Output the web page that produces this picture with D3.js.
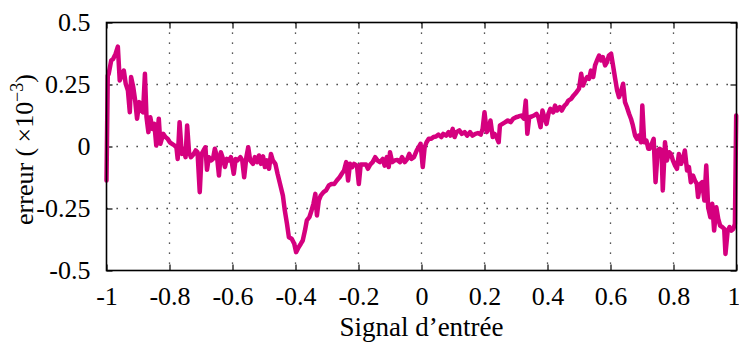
<!DOCTYPE html>
<html><head><meta charset="utf-8">
<script src="https://cdn.jsdelivr.net/npm/d3@7"></script>
<style>
html,body{margin:0;padding:0;background:#fff;}
svg{display:block;}
</style></head>
<body>
<svg id="chart" width="739" height="343"></svg>
<script>
// Input signal (x) and error (×10^-3) values
const signalX = [
-1.000,-0.996,-0.993,-0.985,-0.979,-0.971,-0.964,-0.958,-0.950,-0.945,-0.939,-0.932,-0.926,-0.922,-0.915,-0.909,-0.903,-0.896,-0.890,-0.884,
-0.878,-0.873,-0.867,-0.861,-0.854,-0.848,-0.842,-0.834,-0.829,-0.820,-0.813,-0.806,-0.799,-0.792,-0.784,-0.778,-0.774,-0.768,-0.761,-0.755,
-0.749,-0.744,-0.738,-0.732,-0.723,-0.717,-0.711,-0.704,-0.698,-0.692,-0.686,-0.681,-0.675,-0.668,-0.662,-0.656,-0.649,-0.643,-0.637,-0.630,
-0.624,-0.618,-0.611,-0.605,-0.596,-0.590,-0.584,-0.575,-0.569,-0.563,-0.556,-0.550,-0.544,-0.535,-0.529,-0.522,-0.516,-0.510,-0.503,-0.497,
-0.491,-0.484,-0.478,-0.472,-0.464,-0.457,-0.449,-0.440,-0.434,-0.427,-0.421,
-0.412,-0.404,-0.398,-0.390,-0.383,-0.377,-0.370,-0.364,-0.356,-0.349,-0.343,-0.337,-0.332,-0.326,-0.320,-0.311,-0.303,-0.294,-0.286,-0.277,
-0.269,-0.260,-0.253,-0.246,-0.239,-0.233,-0.227,-0.220,-0.214,-0.205,-0.199,-0.193,-0.184,-0.176,-0.170,-0.163,-0.155,-0.147,-0.140,-0.132,
-0.123,-0.117,-0.110,-0.104,-0.100,-0.093,-0.085,-0.077,-0.068,-0.062,-0.053,-0.045,-0.039,-0.032,-0.024,-0.015,-0.009,-0.003,0.004,0.010,
0.016,0.023,0.031,0.038,0.046,0.054,0.063,0.069,0.078,0.086,0.092,0.099,0.105,0.111,0.120,0.128,0.137,0.145,0.154,
0.162,0.171,0.179,0.188,0.194,0.200,0.207,0.213,0.219,0.226,0.232,0.238,0.245,0.249,0.257,0.266,0.274,0.283,0.291,0.300,
0.308,0.317,0.325,0.331,0.336,0.342,0.350,0.357,0.365,0.371,0.378,0.384,0.390,0.397,0.403,0.409,0.418,0.424,0.430,0.439,
0.445,0.454,0.460,0.466,0.475,0.483,0.492,0.500,0.507,0.513,0.519,0.526,0.532,0.538,0.545,0.551,0.557,0.564,0.570,0.576,
0.583,0.589,0.595,0.602,0.608,0.614,0.621,0.627,0.633,0.640,0.646,0.652,0.659,0.665,0.671,0.678,0.684,0.690,0.697,0.701,
0.707,0.714,0.720,
0.724,0.731,0.737,0.743,0.750,0.756,0.762,0.766,0.773,0.779,0.786,0.792,0.798,0.805,0.811,0.817,0.824,0.830,0.836,0.843,
0.849,0.855,0.862,0.868,0.874,0.878,0.885,0.891,0.898,0.904,0.910,0.917,0.923,0.929,0.936,0.942,0.948,0.955,0.961,0.965,
0.972,0.978,0.984,0.990,0.995,0.999
];
const errorY = [
-0.137,0.286,0.293,0.347,0.353,0.374,0.403,0.266,0.293,0.306,0.253,0.226,0.138,0.280,0.239,0.185,0.112,0.179,0.145,0.138,
0.293,0.118,0.058,0.118,0.071,0.091,0.004,0.112,0.011,0.051,0.038,0.031,0.017,0.011,0.004,-0.003,-0.050,0.098,-0.030,-0.009,
-0.043,0.085,-0.023,-0.043,-0.030,-0.016,-0.023,-0.184,-0.030,-0.016,-0.003,-0.094,-0.043,-0.056,-0.050,-0.009,-0.043,-0.117,-0.023,-0.050,
-0.083,-0.050,-0.056,-0.043,-0.110,-0.050,-0.056,-0.043,-0.056,-0.124,-0.043,-0.003,-0.056,-0.070,-0.043,-0.063,-0.036,-0.070,-0.040,-0.083,
-0.056,-0.090,-0.030,-0.056,-0.070,-0.110,-0.151,-0.198,-0.258,-0.312,-0.366,
-0.372,-0.392,-0.426,-0.406,-0.392,-0.379,-0.339,-0.298,-0.285,-0.258,-0.231,-0.191,-0.278,-0.218,-0.198,-0.184,-0.177,-0.157,-0.151,-0.151,
-0.137,-0.124,-0.110,-0.097,-0.063,-0.137,-0.070,-0.083,-0.070,-0.077,-0.151,-0.073,-0.073,-0.073,-0.090,-0.073,-0.063,-0.043,-0.056,-0.063,
-0.050,-0.077,-0.043,-0.083,-0.023,-0.063,-0.056,-0.054,-0.063,-0.043,-0.063,-0.050,-0.030,-0.050,-0.043,-0.016,-0.003,0.011,-0.083,-0.003,
0.017,0.031,0.031,0.038,0.040,0.048,0.038,0.051,0.044,0.058,0.044,0.071,0.038,0.058,0.065,0.051,0.058,0.044,0.058,
0.044,0.051,0.054,0.048,0.071,0.138,0.058,0.071,0.105,0.038,0.051,0.038,0.017,0.085,0.091,0.098,0.105,0.098,0.112,0.118,
0.121,0.125,0.112,0.185,0.051,0.118,0.121,0.125,0.132,0.118,0.078,0.145,0.118,0.091,0.132,0.152,0.138,0.165,0.145,0.159,
0.145,0.165,0.172,0.185,0.192,0.206,0.219,0.233,0.293,0.246,0.266,0.280,0.273,0.306,0.280,0.327,0.347,0.367,0.347,0.360,
0.327,0.340,0.367,0.374,0.327,0.280,0.226,0.199,0.219,0.253,0.179,0.159,0.132,0.112,0.085,0.044,0.031,0.044,0.017,0.165,
0.017,0.024,-0.009,
-0.009,0.011,0.031,-0.144,-0.016,-0.009,-0.016,-0.177,0.017,-0.056,-0.023,-0.030,-0.056,-0.077,-0.090,-0.030,-0.070,-0.050,-0.016,-0.097,
-0.083,-0.144,-0.117,-0.137,-0.151,-0.204,-0.151,-0.144,-0.218,-0.077,-0.245,-0.285,-0.231,-0.339,-0.245,-0.292,-0.319,-0.325,-0.332,-0.433,
-0.339,-0.325,-0.339,-0.332,-0.312,0.125
];
const xTicks = [-1,-0.8,-0.6,-0.4,-0.2,0,0.2,0.4,0.6,0.8,1];
const xTickLabels = ["-1","-0.8","-0.6","-0.4","-0.2","0","0.2","0.4","0.6","0.8","1"];
const yTicks = [-0.5,-0.25,0,0.25,0.5];
const yTickLabels = ["-0.5","-0.25","0","0.25","0.5"];

const W = 739, H = 343;
const m = {left:106.5, right:2.5, top:22.5, bottom:72.5};
const FONT = '"Liberation Serif"';
const svg = d3.select("#chart");
const x = d3.scaleLinear().domain([-1,1]).range([m.left, W-m.right]);
const y = d3.scaleLinear().domain([-0.5,0.5]).range([H-m.bottom, m.top]);

const data = signalX.map((v,i)=>({x:v, y:errorY[i]}));

// grid
const grid = svg.append("g").attr("stroke","#222").attr("stroke-width",1.3).attr("stroke-dasharray","1.3,8.7");
grid.selectAll("line.v").data(xTicks.slice(1,-1)).join("line")
  .attr("x1",d=>x(d)).attr("x2",d=>x(d)).attr("y1",y(0.5)).attr("y2",y(-0.5));
grid.selectAll("line.h").data(yTicks.slice(1,-1)).join("line")
  .attr("x1",x(-1)).attr("x2",x(1)).attr("y1",d=>y(d)).attr("y2",d=>y(d));

// axes with inward ticks
const tickLen = 6;
const fmtX = (d)=>xTickLabels[xTicks.indexOf(d)];
const fmtY = (d)=>yTickLabels[yTicks.indexOf(d)];
function styleAxis(g){ g.attr("font-family",null); g.select(".domain").remove(); g.selectAll("line").attr("stroke","#000").attr("stroke-width",1.2); }
const fs = 26;
svg.append("g").attr("transform",`translate(0,${y(-0.5)})`)
  .call(d3.axisBottom(x).tickValues(xTicks).tickFormat(fmtX).tickSizeInner(-tickLen).tickPadding(16))
  .call(styleAxis).call(g=>g.selectAll("text").attr("font-size",fs).style("font-family",FONT).attr("fill","#000")
     .attr("dx",d=>d===1?-3:0));
svg.append("g").attr("transform",`translate(0,${y(0.5)})`)
  .call(d3.axisTop(x).tickValues(xTicks).tickFormat("").tickSizeInner(-tickLen))
  .call(styleAxis);
svg.append("g").attr("transform",`translate(${x(-1)},0)`)
  .call(d3.axisLeft(y).tickValues(yTicks).tickFormat(fmtY).tickSizeInner(-tickLen).tickPadding(16))
  .call(styleAxis).call(g=>g.selectAll("text").attr("font-size",fs).style("font-family",FONT).attr("fill","#000"));
svg.append("g").attr("transform",`translate(${x(1)},0)`)
  .call(d3.axisRight(y).tickValues(yTicks).tickFormat("").tickSizeInner(-tickLen))
  .call(styleAxis);

// line
svg.append("path").datum(data)
  .attr("fill","none").attr("stroke","#d5007f").attr("stroke-width",4.5)
  .attr("stroke-linejoin","round").attr("stroke-linecap","round")
  .attr("d", d3.line().x(d=>x(d.x)).y(d=>y(d.y)));

// frame
svg.append("rect").attr("x",x(-1)).attr("y",y(0.5)).attr("width",x(1)-x(-1)).attr("height",y(-0.5)-y(0.5))
  .attr("fill","none").attr("stroke","#000").attr("stroke-width",1.6);

// labels
svg.append("text").attr("x",(x(-1)+x(1))/2).attr("y",336).attr("text-anchor","middle")
  .attr("font-size",27).style("font-family",FONT).text("Signal d’entrée");
const yl = svg.append("text").attr("transform",`translate(33,${(y(0.5)+y(-0.5))/2+3}) rotate(-90)`)
  .attr("text-anchor","middle").attr("font-size",26).style("font-family",FONT);
yl.append("tspan").text("erreur (\u2009×10");
yl.append("tspan").attr("font-size",18).attr("dy",-10).text("−3");
yl.append("tspan").attr("dy",10).text(")");
</script>
</body></html>
